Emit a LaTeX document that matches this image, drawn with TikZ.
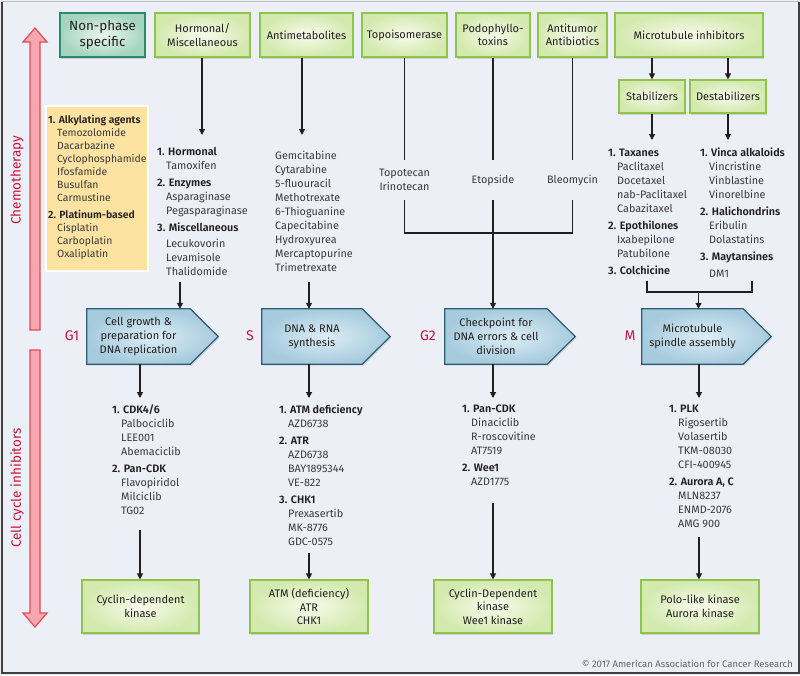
\documentclass[tikz,border=0pt]{standalone}
\usepackage{fontspec}
\setmainfont{Fira Sans}[BoldFont={Fira Sans SemiBold}]
\usetikzlibrary{arrows.meta,shadows}
\definecolor{bgc}{HTML}{EDEFF7}
\definecolor{gfill}{HTML}{D3E9AE}
\definecolor{gin}{HTML}{F7FBEC}
\definecolor{gdraw}{HTML}{8CC54A}
\definecolor{tfill}{HTML}{A5D4C0}
\definecolor{tin}{HTML}{EAF6F1}
\definecolor{tdraw}{HTML}{2B8A6B}
\definecolor{pin}{HTML}{DCEDF5}
\definecolor{pout}{HTML}{A6CBDD}
\definecolor{pdraw}{HTML}{2D5C78}
\definecolor{crim}{HTML}{C5143F}
\definecolor{hdc}{HTML}{231F20}
\definecolor{itc}{HTML}{3A3A3C}
\definecolor{yel}{HTML}{FCE3A2}
\definecolor{rfill}{HTML}{F8A7AE}
\definecolor{rdraw}{HTML}{DF4D59}
\pgfdeclarelayer{back}
\pgfdeclarelayer{bg}
\pgfsetlayers{back,bg,main}
\newcommand{\hd}[1]{{\bfseries\color{hdc}#1}}
\newcommand{\ind}{\hspace*{9pt}}
\tikzset{
  gbox/.style={draw=gdraw, line width=1.2pt, inner color=gin, outer color=gfill,
    drop shadow={shadow xshift=1.2pt,shadow yshift=-1.5pt,opacity=0.3},
    align=center, text=hdc, font=\fontsize{11}{13.5}\selectfont, inner sep=1pt},
  tbox/.style={gbox, draw=tdraw, inner color=tin, outer color=tfill, font=\fontsize{13.4}{16}\selectfont},
  lst/.style={anchor=north west, inner sep=0pt, align=left, text=itc, font=\fontsize{10.8}{14}\selectfont},
  ctext/.style={inner sep=0pt, align=center, text=itc, font=\fontsize{10.8}{14.5}\selectfont, minimum height=40pt},
  ptext/.style={inner sep=0pt, align=center, text=hdc, font=\fontsize{11}{14}\selectfont, minimum height=55pt},
  phase/.style={draw=pdraw, line width=1.2pt, inner color=pin, outer color=pout},
  plabel/.style={text=crim, font=\fontsize{14}{16}\selectfont},
  side/.style={text=crim, rotate=90, font=\fontsize{13.5}{16}\selectfont},
  ln/.style={draw=hdc, line width=1.1pt},
  arr/.style={ln, -{Triangle[length=6pt,width=6pt]}},
  red arrow/.style={fill=rfill, draw=rdraw, line width=1.2pt},
}
\begin{document}
\begin{tikzpicture}[x=1pt,y=-1pt]
\useasboundingbox (0,0) rectangle (800,675);
\begin{pgfonlayer}{back}
\fill[bgc] (0,0) rectangle (800,675);
\draw[black!25, line width=1pt] (1.5,1.5) -- (798.5,1.5);
\draw[black!75, line width=2pt] (1.5,1.5) -- (1.5,673) -- (798.5,673) -- (798.5,1.5);
\end{pgfonlayer}

% side arrows
\filldraw[red arrow] (35,28) -- (47,42) -- (40,42) -- (40,330) -- (30,330) -- (30,42) -- (23,42) -- cycle;
\filldraw[red arrow] (30,350) -- (40,350) -- (40,613) -- (47,613) -- (35,627) -- (23,613) -- (30,613) -- cycle;
\node[side] (chemo) at (17,180) {Chemotherapy};
\node[side] (cci) at (17,488) {Cell cycle inhibitors};

% top boxes
\node[tbox, minimum width=85pt, minimum height=44pt] (nonph) at (102.5,35) {Non-phase\\specific};
\node[gbox, minimum width=95pt, minimum height=44pt] (horm) at (202.5,35) {Hormonal/\\Miscellaneous};
\node[gbox, minimum width=93pt, minimum height=44pt] (anti) at (306.5,35) {Antimetabolites};
\node[gbox, minimum width=85pt, minimum height=44pt] (topo) at (404.5,35) {Topoisomerase};
\node[gbox, minimum width=74pt, minimum height=44pt] (podo) at (493,35) {Podophyllo-\\toxins};
\node[gbox, minimum width=69pt, minimum height=44pt] (antit) at (572.5,35) {Antitumor\\Antibiotics};
\node[gbox, minimum width=148pt, minimum height=44pt] (micro) at (689,35) {Microtubule inhibitors};
\node[gbox, minimum width=66pt, minimum height=33pt] (stab) at (652,96.5) {Stabilizers};
\node[gbox, minimum width=76pt, minimum height=33pt] (destab) at (728,96.5) {Destabilizers};

% yellow box
\node[draw=white, line width=1.5pt, fill=yel, minimum width=102pt, minimum height=165pt, anchor=north west,
  drop shadow={shadow xshift=1.2pt,shadow yshift=-1.5pt,opacity=0.3}] (ybox) at (45,105) {};
\node[lst, font=\fontsize{10.4}{13}\selectfont] (alk) at (48,114.5) {\hd{1. Alkylating agents}\\
\ind Temozolomide\\ \ind Dacarbazine\\ \ind Cyclophosphamide\\ \ind Ifosfamide\\ \ind Busulfan\\ \ind Carmustine\\[4pt]
\hd{2. Platinum-based}\\ \ind Cisplatin\\ \ind Carboplatin\\ \ind Oxaliplatin};

% lists chemotherapy
\node[lst] (hlist) at (157,147.5) {\hd{1. Hormonal}\\ \ind Tamoxifen\\[3pt]
\hd{2. Enzymes}\\ \ind Asparaginase\\ \ind Pegasparaginase\\[3pt]
\hd{3. Miscellaneous}\\[2pt] \ind Lecukovorin\\ \ind Levamisole\\ \ind Thalidomide};
\node[lst] (alist) at (275,150.5) {Gemcitabine\\ Cytarabine\\ 5-fluouracil\\ Methotrexate\\ 6-Thioguanine\\ Capecitabine\\ Hydroxyurea\\ Mercaptopurine\\ Trimetrexate};
\node[ctext] (topotx) at (404.5,180) {Topotecan\\Irinotecan};
\node[ctext] (etop) at (493,180) {Etopside};
\node[ctext] (bleo) at (572.5,180) {Bleomycin};
\node[lst] (taxl) at (608,148.5) {\hd{1. Taxanes}\\ \ind Paclitaxel\\ \ind Docetaxel\\ \ind nab-Paclitaxel\\ \ind Cabazitaxel\\[3pt]
\hd{2. Epothilones}\\ \ind Ixabepilone\\ \ind Patubilone\\[3pt] \hd{3. Colchicine}};
\node[lst] (vincl) at (700,147.5) {\hd{1. Vinca alkaloids}\\ \ind Vincristine\\ \ind Vinblastine\\ \ind Vinorelbine\\[3pt]
\hd{2. Halichondrins}\\ \ind Eribulin\\ \ind Dolastatins\\[3pt] \hd{3. Maytansines}\\[3pt] \ind DM1};

% phases
\node[ptext, minimum width=103pt] (g1) at (138.5,336.5) {Cell growth \&\\preparation for\\DNA replication};
\node[ptext, minimum width=100pt] (s) at (312,336.5) {DNA \& RNA\\synthesis};
\node[ptext, minimum width=102pt] (g2) at (496,336.5) {Checkpoint for\\DNA errors \& cell\\division};
\node[ptext, minimum width=101pt] (m) at (692.5,336.5) {Microtubule\\spindle assembly};
\begin{pgfonlayer}{bg}
\foreach \p in {g1,s,g2,m}{
  \path[phase, drop shadow={shadow xshift=1.2pt,shadow yshift=-1.5pt,opacity=0.25}] (\p.north west) -- (\p.north east) -- ([xshift=28pt]\p.east) -- (\p.south east) -- (\p.south west) -- cycle;
}
\end{pgfonlayer}
\node[plabel] (lg1) at (72,336) {G1};
\node[plabel] (ls) at (250,336) {S};
\node[plabel] (lg2) at (428,336) {G2};
\node[plabel] (lm) at (630,336) {M};

% lists inhibitors
\node[lst] (cdkl) at (112,404.5) {\hd{1. CDK4/6}\\ \ind Palbociclib\\ \ind LEE001\\ \ind Abemaciclib\\[3pt]
\hd{2. Pan-CDK}\\ \ind Flavopiridol\\ \ind Milciclib\\ \ind TG02};
\node[lst] (atml) at (279,404.5) {\hd{1. ATM deficiency}\\ \ind AZD6738\\[3pt]
\hd{2. ATR}\\ \ind AZD6738\\ \ind BAY1895344\\ \ind VE-822\\[3pt]
\hd{3. CHK1}\\ \ind Prexasertib\\ \ind MK-8776\\ \ind GDC-0575};
\node[lst] (pcdkl) at (462,404.5) {\hd{1. Pan-CDK}\\ \ind Dinaciclib\\ \ind R-roscovitine\\ \ind AT7519\\[3pt]
\hd{2. Wee1}\\ \ind AZD1775};
\node[lst] (plkl) at (669,404.5) {\hd{1. PLK}\\ \ind Rigosertib\\ \ind Volasertib\\ \ind TKM-08030\\ \ind CFI-400945\\[3pt]
\hd{2. Aurora A, C}\\ \ind MLN8237\\ \ind ENMD-2076\\ \ind AMG 900};

% bottom boxes
\node[gbox, minimum width=117pt, minimum height=53pt] (cdkb) at (140.5,606.5) {Cyclin-dependent\\kinase};
\node[gbox, minimum width=118pt, minimum height=53pt] (atmb) at (309,606.5) {ATM (deficiency)\\ATR\\CHK1};
\node[gbox, minimum width=118pt, minimum height=53pt] (weeb) at (493,606.5) {Cyclin-Dependent\\kinase\\Wee1 kinase};
\node[gbox, minimum width=118pt, minimum height=53pt] (plkb) at (700,606.5) {Polo-like kinase\\Aurora kinase};

\node[anchor=east, inner sep=0pt, text=black!60, font=\fontsize{9.5}{10}\selectfont] (copy) at (793,664) {\textcopyright{} 2017 American Association for Cancer Research};

% connectors
\coordinate (hA) at (202,135);
\coordinate (aA) at (302,135);
\coordinate (sA) at (652,140);
\coordinate (dA) at (728,140);
\coordinate (j1) at (493,233);
\coordinate (b1) at (647,281);
\coordinate (b2) at (752,281);
\coordinate (bm) at (698.5,292);
\coordinate (h2) at (180,282);
\coordinate (a2) at (309,282);
\draw[arr] (horm.south -| hA) -- (hA);
\draw[arr] (anti.south -| aA) -- (aA);
\draw[ln] (topo.south) -- (topotx.north);
\draw[ln] (podo.south) -- (etop.north);
\draw[ln] (antit.south) -- (bleo.north);
\draw[ln] (topotx.south) |- (j1) -| (bleo.south);
\draw[arr] (etop.south) -- (g2.north -| etop.south);
\draw[arr] (micro.south -| stab) -- (stab.north);
\draw[arr] (micro.south -| destab) -- (destab.north);
\draw[arr] (stab.south) -- (sA);
\draw[arr] (destab.south) -- (dA);
\draw[ln] (b1) |- (bm) -| (b2);
\draw[arr] (bm) -- (bm |- m.north);
\draw[arr] (h2) -- (h2 |- g1.north);
\draw[arr] (a2) -- (a2 |- s.north);

\coordinate (c1) at (140,398);
\coordinate (c2) at (309,398);
\coordinate (c3) at (493,398);
\coordinate (c4) at (699,398);
\draw[arr] (c1 |- g1.south) -- (c1);
\draw[arr] (c2 |- s.south) -- (c2);
\draw[arr] (c3 |- g2.south) -- (c3);
\draw[arr] (c4 |- m.south) -- (c4);
\coordinate (d1) at (140,530);
\coordinate (d2) at (309,553);
\coordinate (d3) at (493,503);
\coordinate (d4) at (699,537);
\draw[arr] (d1) -- (d1 |- cdkb.north);
\draw[arr] (d2) -- (d2 |- atmb.north);
\draw[arr] (d3) -- (d3 |- weeb.north);
\draw[arr] (d4) -- (d4 |- plkb.north);
\end{tikzpicture}
\end{document}
